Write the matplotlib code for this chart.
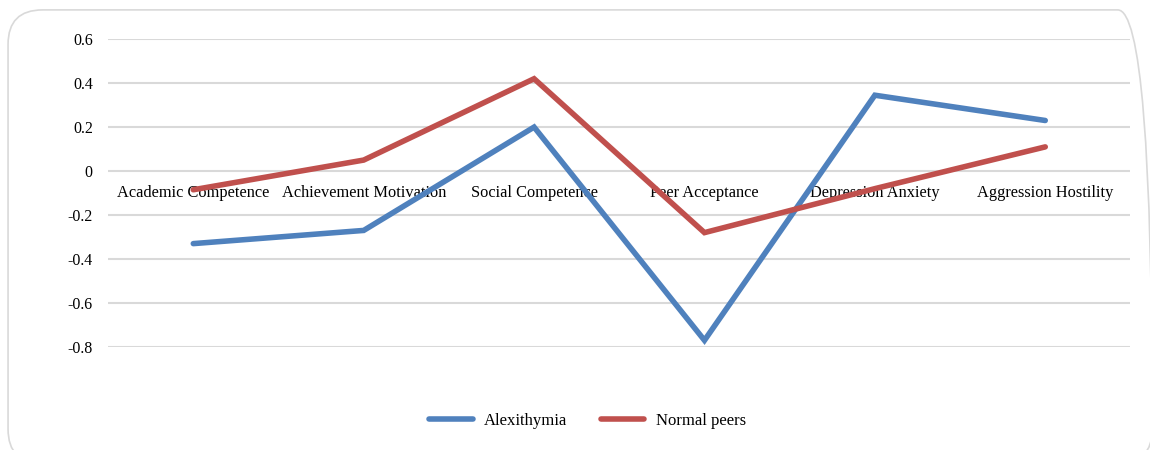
import matplotlib
matplotlib.use("Agg")
import matplotlib.pyplot as plt
from matplotlib.patches import FancyBboxPatch

plt.rcParams['font.family'] = ['Liberation Serif', 'DejaVu Serif']

# data
categories = ["Academic Competence", "Achievement Motivation", "Social Competence",
              "Peer Acceptance", "Depression Anxiety", "Aggression Hostility"]
alexithymia = [-0.33, -0.27, 0.20, -0.77, 0.345, 0.23]
normal_peers = [-0.085, 0.05, 0.42, -0.28, -0.08, 0.11]
yticks = [-0.8, -0.6, -0.4, -0.2, 0, 0.2, 0.4, 0.6]
ytick_labels = ["-0.8", "-0.6", "-0.4", "-0.2", "0", "0.2", "0.4", "0.6"]

fig = plt.figure(figsize=(11.5, 4.5), dpi=100)

# rounded chart border (runs off the right and bottom edges like the original)
border = FancyBboxPatch((0.007, -0.03), 0.995, 1.008,
                        boxstyle="round,pad=0,rounding_size=0.03",
                        transform=fig.transFigure, facecolor="none",
                        edgecolor="#D9D9D9", linewidth=1.2,
                        mutation_aspect=11.5 / 4.5, zorder=-1)
fig.patches.append(border)

ax = fig.add_axes([0.094, 0.229, 0.889, 0.684])
ax.set_facecolor("none")

x = list(range(len(categories)))
ax.plot(x, alexithymia, color="#4F81BD", lw=4, solid_joinstyle="miter",
        solid_capstyle="round", label="Alexithymia", zorder=3)
ax.plot(x, normal_peers, color="#C0504D", lw=4, solid_joinstyle="miter",
        solid_capstyle="round", label="Normal peers", zorder=3)

ax.set_xlim(-0.5, len(categories) - 0.5)
ax.set_ylim(-0.8, 0.6)
ax.set_yticks(yticks)
ax.set_yticklabels(ytick_labels, fontsize=11.5)
ax.set_xticks([])
ax.tick_params(axis="y", length=0, pad=11)
for s in ax.spines.values():
    s.set_visible(False)
ax.grid(axis="y", color="#D9D9D9", lw=1.5, zorder=0)

# category labels sit just below the zero line
for i, c in enumerate(categories):
    ax.annotate(c, (i, 0), xytext=(0, -15.5), textcoords="offset points",
                ha="center", va="center", fontsize=11.8, zorder=2)

fig.legend(loc="center", bbox_to_anchor=(0.511, 0.064), ncol=2, frameon=False,
           fontsize=12, handlelength=2.6, handletextpad=0.7, columnspacing=2.0)

fig.savefig("out.png", dpi=100)
